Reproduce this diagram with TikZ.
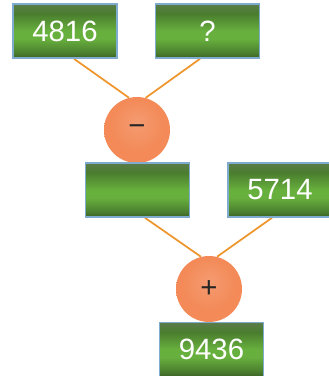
\documentclass[tikz,border=0pt]{standalone}
\usepackage{fontspec}
\setmainfont{Liberation Sans}
\usetikzlibrary{backgrounds}
\definecolor{gtop}{HTML}{5A7C4A}
\definecolor{gdark}{HTML}{4A7D2E}
\definecolor{glight}{HTML}{68B03E}
\definecolor{gmid}{HTML}{4B7F2E}
\definecolor{gbot}{HTML}{3B6226}
\definecolor{bord}{HTML}{7FABCF}
\definecolor{ball}{HTML}{F38A58}
\definecolor{balledge}{HTML}{DA744C}
\definecolor{wire}{HTML}{EE952C}
\pgfdeclareverticalshading{greenbox}{100bp}{color(0bp)=(gbot); color(25bp)=(gbot); color(30bp)=(gmid); color(43bp)=(glight); color(50bp)=(glight); color(66bp)=(gdark); color(75bp)=(gtop); color(100bp)=(gtop)}
\pgfdeclareradialshading{ballshade}{\pgfpoint{0bp}{6bp}}{color(0bp)=(ball!85!white); color(20bp)=(ball); color(42bp)=(ball); color(50bp)=(balledge)}
\tikzset{
  numbox/.style={rectangle, draw=bord, line width=1.2pt, shading=greenbox,
    minimum width=78pt, minimum height=40.5pt, inner sep=0pt, text=white, font=\fontsize{22}{26}\selectfont},
  opball/.style={circle, shading=ballshade,
    minimum size=49.5pt, inner sep=0pt, text=black!85, font=\fontsize{22}{26}\selectfont},
  wireline/.style={draw=wire, line width=1.3pt}
}
\begin{document}
\begin{tikzpicture}[x=0.75pt,y=-0.75pt]
\useasboundingbox (0,0) rectangle (329,376);
\node[numbox] (a) at (65,31) {4816};
\node[numbox] (b) at (207.5,31) {?};
\node[opball] (m) at (137,130) {−};
\node[numbox] (c) at (137.5,190) {};
\node[numbox] (d) at (280,190) {5714};
\node[opball] (p) at (209,289) {+};
\node[numbox] (r) at (211.5,349.5) {9436};
\begin{scope}[on background layer]
\draw[wireline] ([xshift=6.75pt]a.south) -- (m.104);
\draw[wireline] ([xshift=-5.6pt]b.south) -- (m.75);
\draw[wireline] ([xshift=5.6pt]c.south) -- (p.104);
\draw[wireline] ([xshift=-6pt]d.south) -- (p.76);
\end{scope}
\end{tikzpicture}
\end{document}
